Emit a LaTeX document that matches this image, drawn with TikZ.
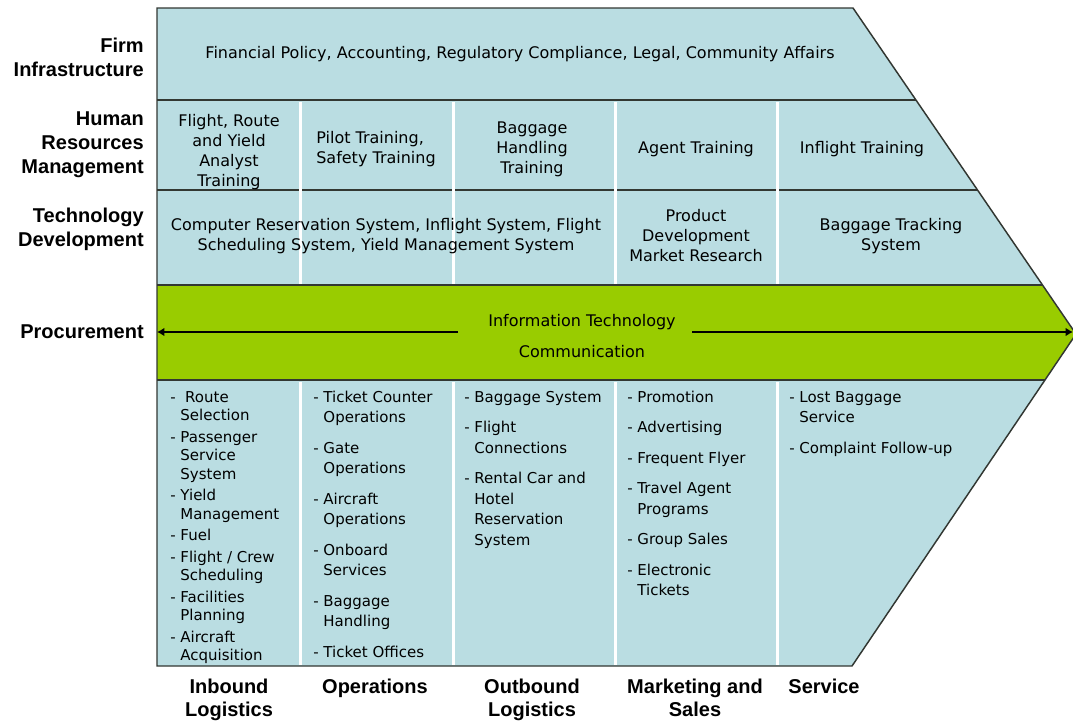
\documentclass[tikz,border=0pt]{standalone}
\usepackage{fontspec}
\setmainfont{DejaVu Sans}
\newfontfamily\lblfont{Liberation Sans}
\usetikzlibrary{arrows.meta}
\definecolor{vcblue}{RGB}{186,221,226}
\definecolor{vcgreen}{RGB}{153,204,0}
\definecolor{vcline}{RGB}{50,55,50}
\begin{document}
\begin{tikzpicture}[x=0.75pt,y=-0.75pt,
  cell/.style={align=center, inner sep=0pt, font=\fontsize{12}{15}\selectfont},
  lst/.style={anchor=base west, inner sep=0pt, font=\fontsize{11.25}{15.4}\selectfont},
  lsttight/.style={anchor=base west, inner sep=0pt, font=\fontsize{11.25}{13.9}\selectfont},
  rowlbl/.style={anchor=east, align=right, inner sep=0pt, font=\lblfont\bfseries\fontsize{15}{18}\selectfont},
  collbl/.style={anchor=north, align=center, inner sep=0pt, font=\lblfont\bfseries\fontsize{15}{17.25}\selectfont},
  colsep/.style={white, line width=2.25pt},
  rowline/.style={vcline, line width=1.5pt},
  pointer/.style={line width=2pt, -{Latex[length=5.5pt,width=6.5pt]}}]
\useasboundingbox (0,0) rectangle (1073,725);
\coordinate (tl) at (157,8);
\coordinate (tr) at (853,8);
\coordinate (tip) at (1076,334);
\coordinate (br) at (852,666);
\coordinate (bl) at (157,666);
\fill[vcblue] (tl) -- (tr) -- (tip) -- (br) -- (bl) -- cycle;
\begin{scope}
\clip (tl) -- (tr) -- (tip) -- (br) -- (bl) -- cycle;
\fill[vcgreen] (157,285) rectangle (1100,380);
\foreach \y in {100,190,285,380}
  \draw[rowline] (157,\y) -- (1100,\y);
\end{scope}
\foreach \x in {300,453,615,777} {
  \draw[colsep] (\x,101.5) -- (\x,283.5);
  \draw[colsep] (\x,381.5) -- (\x,665);
}
\draw[vcline, line width=1.1pt] (tl) -- (tr) -- (tip) -- (br) -- (bl) -- cycle;

\node[rowlbl] (firm) at (144,57) {Firm\\Infrastructure};
\node[rowlbl] (hrm) at (144,145) {Human\\Resources\\Management};
\node[rowlbl] (techdev) at (144,229) {Technology\\Development};
\node[rowlbl] (proc) at (144,332) {Procurement};

\node[cell] (fin) at (520,54) {Financial Policy, Accounting, Regulatory Compliance, Legal, Community Affairs};
\node[cell] (hr1) at (229,152) {Flight, Route\\and Yield\\Analyst\\Training};
\node[cell, align=left] (hr2) at (376,149) {Pilot Training,\\Safety Training};
\node[cell] (hr3) at (532,149) {Baggage\\Handling\\Training};
\node[cell] (hr4) at (696,149) {Agent Training};
\node[cell] (hr5) at (862,149) {Inflight Training};
\node[cell] (td1) at (386,236) {Computer Reservation System, Inflight System, Flight\\Scheduling System, Yield Management System};
\node[cell] (td2) at (696,236) {Product\\Development\\Market Research};
\node[cell] (td3) at (891,236) {Baggage Tracking\\System};

\node[cell] (itech) at (582,322) {Information Technology};
\node[cell] (comm) at (582,352) {Communication};
\coordinate (gapl) at (458,332);
\coordinate (arrl) at (157,332);
\coordinate (gapr) at (692,332);
\coordinate (arrr) at (1073,332);
\draw[pointer] (gapl) -- (arrl);
\draw[pointer] (gapr) -- (arrr);

\node[lsttight] (inlist) at (170,402) {\begin{tabular}[t]{@{}l@{ }l@{}}
- & \ Route\\ & Selection\\[2.25pt]
- & Passenger\\ & Service\\ & System\\[2.25pt]
- & Yield\\ & Management\\[2.25pt]
- & Fuel\\[2.25pt]
- & Flight / Crew\\ & Scheduling\\[2.25pt]
- & Facilities\\ & Planning\\[2.25pt]
- & Aircraft\\ & Acquisition
\end{tabular}};
\node[lst] (oplist) at (313,402) {\begin{tabular}[t]{@{}l@{ }l@{}}
- & Ticket Counter\\ & Operations\\[7.5pt]
- & Gate\\ & Operations\\[7.5pt]
- & Aircraft\\ & Operations\\[7.5pt]
- & Onboard\\ & Services\\[7.5pt]
- & Baggage\\ & Handling\\[7.5pt]
- & Ticket Offices
\end{tabular}};
\node[lst] (outlist) at (464,402) {\begin{tabular}[t]{@{}l@{ }l@{}}
- & Baggage System\\[7.5pt]
- & Flight\\ & Connections\\[7.5pt]
- & Rental Car and\\ & Hotel\\ & Reservation\\ & System
\end{tabular}};
\node[lst] (mktlist) at (627,402) {\begin{tabular}[t]{@{}l@{ }l@{}}
- & Promotion\\[7.5pt]
- & Advertising\\[7.5pt]
- & Frequent Flyer\\[7.5pt]
- & Travel Agent\\ & Programs\\[7.5pt]
- & Group Sales\\[7.5pt]
- & Electronic\\ & Tickets
\end{tabular}};
\node[lst] (svclist) at (789,402) {\begin{tabular}[t]{@{}l@{ }l@{}}
- & Lost Baggage\\ & Service\\[7.5pt]
- & Complaint Follow-up
\end{tabular}};

\node[collbl] (inlog) at (229,679) {Inbound\\Logistics};
\node[collbl] (ops) at (375,679) {Operations};
\node[collbl] (outlog) at (532,679) {Outbound\\Logistics};
\node[collbl] (mkt) at (695,679) {Marketing and\\Sales};
\node[collbl] (svc) at (824,679) {Service};
\end{tikzpicture}
\end{document}
